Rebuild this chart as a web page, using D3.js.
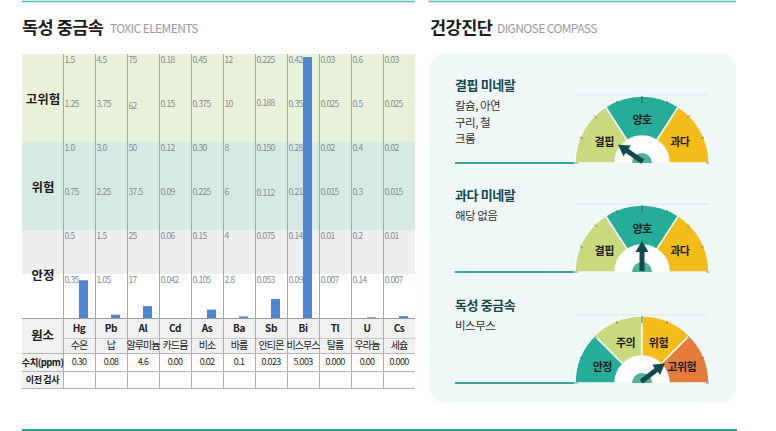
<!DOCTYPE html>
<html>
<head>
<meta charset="utf-8">
<script src="https://cdn.jsdelivr.net/npm/d3@7"></script>
<style>
  body { margin: 0; background: #fff; }
  text { font-family: "Noto Sans CJK KR", "Noto Sans", sans-serif; }
</style>
</head>
<body>
<svg id="svg1" width="776" height="431"></svg>
<script>
// ---- data ----
var elements = ["Hg", "Pb", "Al", "Cd", "As", "Ba", "Sb", "Bi", "Tl", "U", "Cs"];
var elementNames = ["수은", "납", "알루미늄", "카드뮴", "비소", "바륨", "안티몬", "비스무스", "탈륨", "우라늄", "세슘"];
var valueLabels = ["0.30", "0.08", "4.6", "0.00", "0.02", "0.1", "0.023", "5.003", "0.000", "0.00", "0.000"];
var barValues = [0.30, 0.08, 4.6, 0, 0.02, 0.1, 0.023, 5.003, 0, 0.002, 0.0003];
// tick labels per element, top -> bottom
var tickLabels = [
  ["1.5", "1.25", "1.0", "0.75", "0.5", "0.35"],
  ["4.5", "3.75", "3.0", "2.25", "1.5", "1.05"],
  ["75", "62", "50", "37.5", "25", "17"],
  ["0.18", "0.15", "0.12", "0.09", "0.06", "0.042"],
  ["0.45", "0.375", "0.30", "0.225", "0.15", "0.105"],
  ["12", "10", "8", "6", "4", "2.8"],
  ["0.225", "0.188", "0.150", "0.112", "0.075", "0.053"],
  ["0.42", "0.35", "0.28", "0.21", "0.14", "0.098"],
  ["0.03", "0.025", "0.02", "0.015", "0.01", "0.007"],
  ["0.6", "0.5", "0.4", "0.3", "0.2", "0.14"],
  ["0.03", "0.025", "0.02", "0.015", "0.01", "0.007"]
];
var zoneNames = ["고위험", "위험", "안정"];
var tableRowLabels = ["원소", "수치(ppm)", "이전 검사"];

var gaugeTitles = ["결핍 미네랄", "과다 미네랄", "독성 중금속"];
var gaugeNotes = [["칼슘, 아연", "구리, 철", "크롬"], ["해당 없음"], ["비스무스"]];
var gaugeSegments = [["결핍", "양호", "과다"], ["결핍", "양호", "과다"], ["안정", "주의", "위험", "고위험"]];
var gaugeBreaks = [[0, 0.317, 0.683, 1], [0, 0.317, 0.683, 1], [0, 0.25, 0.5, 0.75, 1]];
var gaugeNeedles = [0.19, 0.5, 0.79];

var segColor = {"결핍": "#c8d97e", "양호": "#26ad9a", "과다": "#f3bc18",
                "안정": "#26ad9a", "주의": "#c8d97e", "위험": "#f3bc18", "고위험": "#e67c3c"};

var svg = d3.select("#svg1");

// ---- headers & rules ----
svg.append("line").attr("x1", 22).attr("x2", 415).attr("y1", 1.5).attr("y2", 1.5)
   .attr("stroke", "#55bbb0").attr("stroke-width", 1.5);
svg.append("line").attr("x1", 429).attr("x2", 736).attr("y1", 1.5).attr("y2", 1.5)
   .attr("stroke", "#55bbb0").attr("stroke-width", 1.5);
svg.append("line").attr("x1", 22).attr("x2", 737).attr("y1", 430).attr("y2", 430)
   .attr("stroke", "#2f9c90").attr("stroke-width", 2);

function heading(x, title, sub, subX) {
  svg.append("text").attr("x", x).attr("y", 34).attr("font-size", "17.5px")
     .attr("font-weight", "bold").attr("fill", "#1c1c1c").attr("letter-spacing", "-0.5")
     .text(title);
  svg.append("text").attr("x", subX).attr("y", 33).attr("font-size", "12px")
     .attr("fill", "#9a9a9a").attr("letter-spacing", "-0.6").text(sub);
}
heading(22, "독성 중금속", "TOXIC ELEMENTS", 110);
heading(430, "건강진단", "DIGNOSE COMPASS", 497);

// ---- left chart ----
var xScale = d3.scaleBand().domain(elements).range([63, 415]);
var yLevel = d3.scaleLinear().domain([0, 6]).range([318, 54]); // 6 levels, 44px each

var g = svg.append("g");
var bands = [
  {from: 4, to: 6, fill: "#eaf1da"},
  {from: 2, to: 4, fill: "#d6eae3"},
  {from: 1, to: 2, fill: "#eeeeee"}
];
g.selectAll(".band").data(bands).enter().append("rect")
 .attr("x", 22).attr("width", 393)
 .attr("y", function(d) { return yLevel(d.to); })
 .attr("height", function(d) { return yLevel(d.from) - yLevel(d.to); })
 .attr("fill", function(d) { return d.fill; });

var zoneMid = [5, 3, 1];
g.selectAll(".zone").data(zoneNames).enter().append("text")
 .attr("x", 43).attr("y", function(d, i) { return yLevel(zoneMid[i]) + 3; })
 .attr("text-anchor", "middle").attr("dominant-baseline", "middle")
 .attr("font-size", "12.5px").attr("font-weight", "bold").attr("fill", "#1c1c1c")
 .text(function(d) { return d; });

// column lines run through chart and table
g.selectAll(".vline").data(elements).enter().append("line")
 .attr("x1", function(d) { return xScale(d) + 0.5; })
 .attr("x2", function(d) { return xScale(d) + 0.5; })
 .attr("y1", 54).attr("y2", 388)
 .attr("stroke", "#a9a9a9").attr("stroke-width", 1);

elements.forEach(function(el, i) {
  var t = tickLabels[i];
  var lv = d3.scaleLinear()
    .domain([0, +t[5], +t[4], +t[2], +t[0]])
    .range([0, 1, 2, 4, 6]).clamp(true);

  g.selectAll(".tick" + i).data(t).enter().append("text")
   .attr("x", xScale(el) + 1.5)
   .attr("y", function(d) { return yLevel(lv(+d)) + 9; })
   .attr("font-size", "8.5px").attr("fill", "#8a8a8a").attr("letter-spacing", "-0.6")
   .text(function(d) { return d; });

  var yTop = Math.max(yLevel(lv(barValues[i])), 57);
  g.append("rect").attr("class", "bar")
   .attr("x", xScale(el) + 16).attr("width", 9)
   .attr("y", yTop).attr("height", 318 - yTop)
   .attr("fill", "#4d86d2");
});

// ---- table ----
var rowY = [318, 338, 353, 371, 388];
var t = svg.append("g");
t.append("rect").attr("x", 22).attr("y", rowY[0]).attr("width", 393).attr("height", rowY[2] - rowY[0])
 .attr("fill", "#f1f1f1");
t.append("rect").attr("x", 22).attr("y", rowY[2]).attr("width", 41).attr("height", rowY[4] - rowY[2])
 .attr("fill", "#f1f1f1");
[0, 2, 3, 4].forEach(function(k) {
  t.append("line").attr("x1", 22).attr("x2", 415).attr("y1", rowY[k] + 0.5).attr("y2", rowY[k] + 0.5)
   .attr("stroke", k === 0 ? "#9c9c9c" : "#b5b5b5");
});
t.append("line").attr("x1", 63).attr("x2", 415).attr("y1", rowY[1] + 0.5).attr("y2", rowY[1] + 0.5)
 .attr("stroke", "#c8c8c8");
t.selectAll(".vl").data(elements).enter().append("line")
 .attr("x1", function(d) { return xScale(d) + 0.5; })
 .attr("x2", function(d) { return xScale(d) + 0.5; })
 .attr("y1", rowY[0]).attr("y2", rowY[4]).attr("stroke", "#b0b0b0");

var rowLabelY = [(rowY[0] + rowY[2]) / 2 + 1, (rowY[2] + rowY[3]) / 2 + 1, (rowY[3] + rowY[4]) / 2 + 1];
var rowLabelSize = ["12.5px", "9.5px", "9px"];
t.selectAll(".rl").data(tableRowLabels).enter().append("text")
 .attr("x", 42.5).attr("y", function(d, i) { return rowLabelY[i]; })
 .attr("text-anchor", "middle").attr("dominant-baseline", "middle")
 .attr("font-size", function(d, i) { return rowLabelSize[i]; })
 .attr("font-weight", "bold").attr("fill", "#1c1c1c")
 .attr("letter-spacing", function(d, i) { return i === 1 ? "-0.6" : "-0.3"; })
 .text(function(d) { return d; });

function cellText(data, y, size, weight, ls) {
  t.selectAll(null).data(data).enter().append("text")
   .attr("x", function(d, i) { return xScale(elements[i]) + xScale.bandwidth() / 2; })
   .attr("y", y).attr("text-anchor", "middle").attr("dominant-baseline", "middle")
   .attr("font-size", size).attr("font-weight", weight).attr("fill", "#222")
   .attr("letter-spacing", ls)
   .text(function(d) { return d; });
}
cellText(elements, (rowY[0] + rowY[1]) / 2 + 1, "10px", "bold", "-0.4");
cellText(elementNames, (rowY[1] + rowY[2]) / 2 + 1, "10px", "normal", "-0.9");
cellText(valueLabels, (rowY[2] + rowY[3]) / 2 + 1, "9px", "normal", "-0.7");

// ---- right panel: gauges ----
svg.append("rect").attr("x", 430).attr("y", 53).attr("width", 306).attr("height", 350)
   .attr("rx", 16).attr("fill", "#eff7f7");

var gaugeBaseY = [163, 272, 383];
var gaugeTitleY = [86, 196, 306];
var cx = 642, rOuter = 67, rInner = 27;
var angle = d3.scaleLinear().domain([0, 1]).range([-Math.PI / 2, Math.PI / 2]);
var arc = d3.arc();

gaugeTitles.forEach(function(title, gi) {
  var cy = gaugeBaseY[gi];
  var p = svg.append("g");

  p.append("text").attr("x", 455).attr("y", gaugeTitleY[gi]).attr("dominant-baseline", "middle")
   .attr("font-size", "13px").attr("font-weight", "bold").attr("fill", "#17474c")
   .attr("letter-spacing", "-0.4").text(title);
  p.selectAll(".note").data(gaugeNotes[gi]).enter().append("text")
   .attr("x", 455).attr("y", function(d, i) { return gaugeTitleY[gi] + 21 + i * 16.5; })
   .attr("dominant-baseline", "middle").attr("font-size", "11.5px").attr("fill", "#333")
   .attr("letter-spacing", "-0.5").text(function(d) { return d; });

  p.append("line").attr("x1", 455).attr("x2", cx - rOuter).attr("y1", cy).attr("y2", cy)
   .attr("stroke", "#3aa79b").attr("stroke-width", 2);
  p.append("line").attr("x1", cx - rOuter).attr("x2", cx + rOuter)
   .attr("y1", cy - rOuter - 1).attr("y2", cy - rOuter - 1)
   .attr("stroke", "#dde7e7").attr("stroke-width", 1);

  var gg = p.append("g").attr("transform", "translate(" + cx + "," + cy + ")");
  var br = gaugeBreaks[gi];
  var segs = gaugeSegments[gi].map(function(name, i) {
    return {name: name, a0: angle(br[i]), a1: angle(br[i + 1])};
  });
  gg.selectAll(".seg").data(segs).enter().append("path")
   .attr("d", function(d) {
     return arc({innerRadius: rInner, outerRadius: rOuter, startAngle: d.a0, endAngle: d.a1});
   })
   .attr("fill", function(d) { return segColor[d.name]; })
   .attr("stroke", "#f4fafa").attr("stroke-width", 1.5);

  // rim ticks every 22.5 degrees
  var ticks = d3.range(0, 9).map(function(k) { return angle(k / 8); });
  gg.selectAll(".rt").data(ticks).enter().append("line")
   .attr("x1", function(a) { return Math.sin(a) * rOuter; })
   .attr("y1", function(a) { return -Math.cos(a) * rOuter; })
   .attr("x2", function(a, k) { var r = rOuter - (k === 4 ? 7 : 3); return Math.sin(a) * r; })
   .attr("y2", function(a, k) { var r = rOuter - (k === 4 ? 7 : 3); return -Math.cos(a) * r; })
   .attr("stroke", "#2f5a57").attr("stroke-opacity", 0.7)
   .attr("stroke-width", function(a, k) { return k === 4 ? 1.3 : 0.9; });

  gg.selectAll(".sl").data(segs).enter().append("text")
   .attr("x", function(d) { return Math.sin((d.a0 + d.a1) / 2) * 43; })
   .attr("y", function(d) { return -Math.cos((d.a0 + d.a1) / 2) * 43 + 1; })
   .attr("text-anchor", "middle").attr("dominant-baseline", "middle")
   .attr("font-size", "11px").attr("font-weight", "bold").attr("fill", "#1c1c1c")
   .attr("letter-spacing", "-0.5")
   .text(function(d) { return d.name; });

  gg.append("path")
   .attr("d", arc({innerRadius: 0, outerRadius: rInner, startAngle: -Math.PI / 2, endAngle: Math.PI / 2}))
   .attr("fill", "#ffffff");
  gg.append("path")
   .attr("d", arc({innerRadius: 0, outerRadius: 10, startAngle: -Math.PI / 2, endAngle: Math.PI / 2}))
   .attr("fill", "#4fb197");

  var deg = angle(gaugeNeedles[gi]) * 180 / Math.PI;
  var needle = gg.append("g").attr("transform", "translate(0,-2) rotate(" + deg + ")");
  needle.append("rect").attr("x", -2.5).attr("y", -20).attr("width", 5).attr("height", 21)
   .attr("fill", "#0f4b4e");
  needle.append("path").attr("d", "M-6.5,-18 L6.5,-18 L0,-29 Z").attr("fill", "#0f4b4e");
});
</script>
</body>
</html>
